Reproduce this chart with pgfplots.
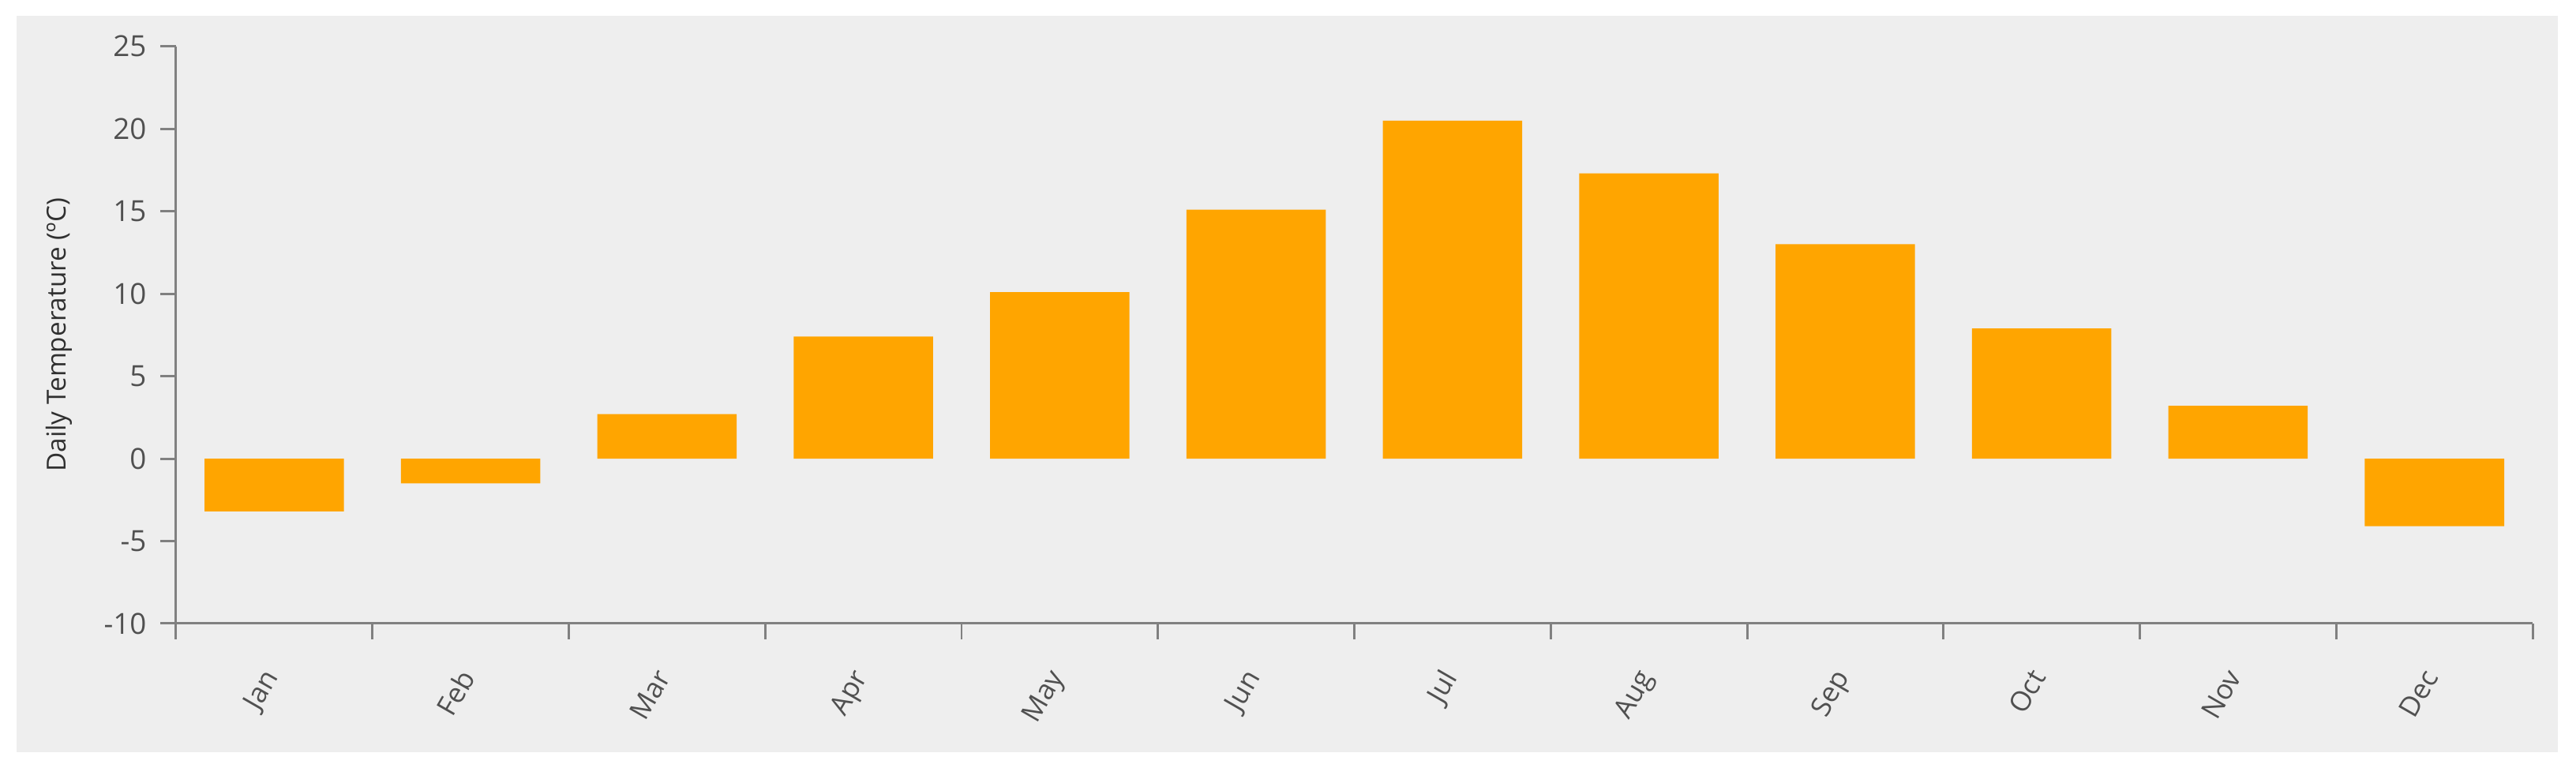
\documentclass[border=0pt]{standalone}
\usepackage{pgfplots}
\pgfplotsset{compat=1.18}
\usepackage{fontspec}
\setmainfont{Open Sans}
\definecolor{bg}{HTML}{EEEEEE}
\definecolor{barc}{HTML}{FFA500}
\definecolor{axc}{HTML}{808080}
\definecolor{tickc}{HTML}{505050}
\definecolor{labc}{HTML}{303030}
\begin{document}
\begin{tikzpicture}[x=1pt,y=1pt]
\useasboundingbox (0,0) rectangle (932.3,278);
\fill[white] (0,0) rectangle (932.3,278);
\fill[bg] (6,5.7) rectangle (925.7,272.3);
\begin{axis}[
  at={(63.7pt,52.3pt)}, anchor=south west,
  width=852.9pt, height=208.9pt, scale only axis,
  xmin=-0.5, xmax=11.5, ymin=-10, ymax=25,
  axis lines*=left,
  axis line style={axc, line width=0.85pt},
  tick style={axc, line width=0.85pt},
  tick align=outside, major tick length=5.7pt,
  xtick={-0.5,0.5,1.5,2.5,3.5,4.5,5.5,6.5,7.5,8.5,9.5,10.5,11.5},
  x tick label as interval,
  xticklabels={Jan,Feb,Mar,Apr,May,Jun,Jul,Aug,Sep,Oct,Nov,Dec},
  xticklabel style={yshift=-8.5pt, xshift=-5pt, rotate=60, anchor=north east, inner sep=1pt, font=\fontsize{10}{12}\selectfont, text=tickc},
  ytick={-10,-5,0,5,10,15,20,25},
  yticklabel style={font=\fontsize{10.5}{12}\selectfont, text=tickc, xshift=-1.5pt},
  /pgf/number format/assume math mode=true,
  ylabel={Daily Temperature (ºC)},
  ylabel style={at={(axis description cs:-0.0496,0.5)}, anchor=center, font=\fontsize{9.5}{11}\selectfont, text=labc},
  clip=false,
]
\addplot[ybar, fill=barc, draw=none, bar width=0.71] coordinates {
  (0,-3.2) (1,-1.5) (2,2.7) (3,7.4) (4,10.1) (5,15.1)
  (6,20.5) (7,17.3) (8,13.0) (9,7.9) (10,3.2) (11,-4.1)
};
\end{axis}
\end{tikzpicture}
\end{document}
